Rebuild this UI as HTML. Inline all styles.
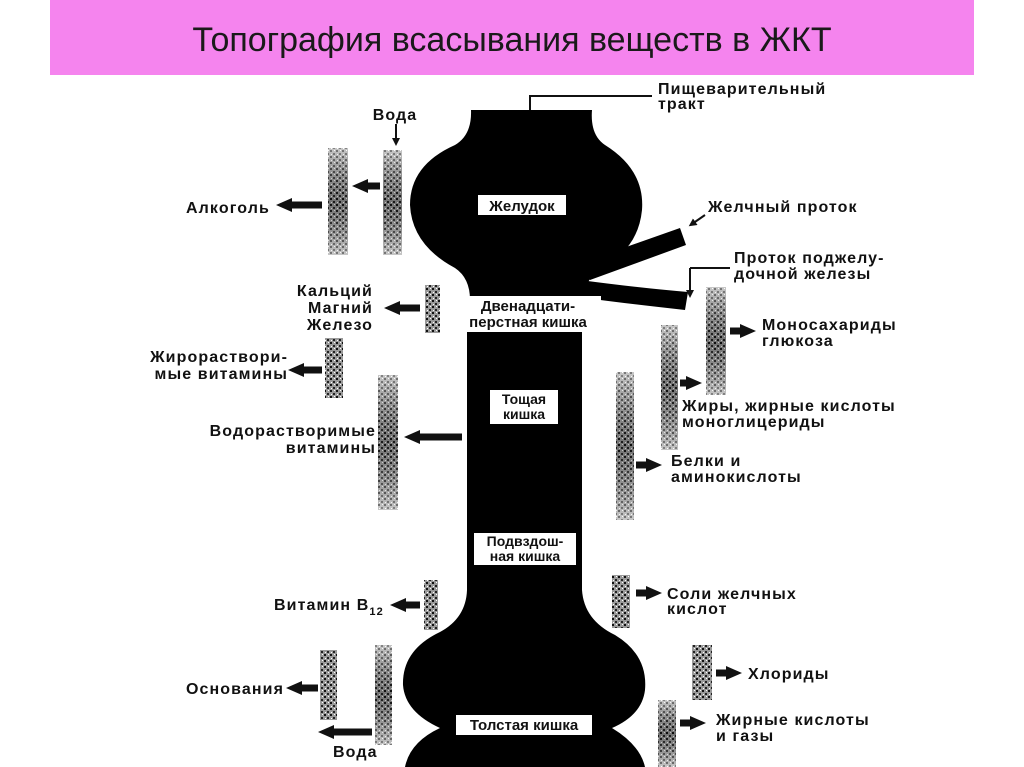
<!DOCTYPE html>
<html><head><meta charset="utf-8"><style>
html,body{margin:0;padding:0;background:#fff;width:1024px;height:767px;overflow:hidden}
svg{display:block}
text{font-family:"Liberation Sans",sans-serif;font-weight:bold;fill:#111}
.l text{letter-spacing:1.1px}
</style></head><body>
<svg width="1024" height="767" viewBox="0 0 1024 767" xmlns="http://www.w3.org/2000/svg">
<defs>
<pattern id="st" width="6" height="6" patternUnits="userSpaceOnUse">
<rect width="6" height="6" fill="#9a9a9a"/>
<rect x="0" y="0" width="2" height="2" fill="#111"/>
<rect x="3" y="3" width="2" height="2" fill="#222"/>
<rect x="4" y="0" width="1" height="1" fill="#fff"/>
<rect x="1" y="4" width="1" height="1" fill="#fff"/>
</pattern>
<linearGradient id="sh" x1="0" y1="0" x2="0" y2="1">
<stop offset="0" stop-color="#fff" stop-opacity="0.45"/>
<stop offset="0.5" stop-color="#000" stop-opacity="0.25"/>
<stop offset="1" stop-color="#fff" stop-opacity="0.45"/>
</linearGradient>
<marker id="ah" markerWidth="16" markerHeight="16" refX="4" refY="8" orient="auto" markerUnits="userSpaceOnUse">
<path d="M0,1 L16,8 L0,15 Z" fill="#111"/></marker>
<marker id="as" markerWidth="8" markerHeight="8" refX="4" refY="4" orient="auto" markerUnits="userSpaceOnUse">
<path d="M0,0 L8,4 L0,8 Z" fill="#111"/></marker>
</defs>
<rect x="50" y="0" width="924" height="75" fill="#f584ee"/>
<text x="512" y="51" text-anchor="middle" font-size="34" style="font-weight:normal;fill:#1a1a1a">Топография всасывания веществ в ЖКТ</text>

<path fill="#000" d="M471,110 L592,110 Q590,135 605,145 Q645,170 642,210 Q638,250 600,268 Q585,278 585,300 L582,330 L582,590 Q584,620 615,635 Q648,655 645,690 Q642,715 612,728 Q640,745 645,767 L405,767 Q410,742 440,728 Q405,712 403,685 Q402,650 440,632 Q466,618 467,590 L467,330 L470,300 Q470,278 455,268 Q412,245 410,205 Q410,165 455,145 Q472,135 471,110 Z"/>
<path fill="#000" d="M575,265 L680,228 L686,245 L590,280 Z"/>
<path fill="#000" d="M580,280 Q640,288 688,292 L685,310 Q630,304 585,298 Z"/>

<rect x="478" y="195" width="88" height="20" fill="#fff"/><text x="522" y="211" text-anchor="middle" font-size="15">Желудок</text>
<rect x="455" y="296" width="146" height="36" fill="#fff"/><text x="528" y="311" text-anchor="middle" font-size="15">Двенадцати-</text><text x="528" y="327" text-anchor="middle" font-size="15">перстная кишка</text>
<rect x="490" y="390" width="68" height="34" fill="#fff"/><text x="524" y="404" text-anchor="middle" font-size="14">Тощая</text><text x="524" y="419" text-anchor="middle" font-size="14">кишка</text>
<rect x="474" y="533" width="102" height="32" fill="#fff"/><text x="525" y="546" text-anchor="middle" font-size="14">Подвздош-</text><text x="525" y="561" text-anchor="middle" font-size="14">ная кишка</text>
<rect x="456" y="715" width="136" height="20" fill="#fff"/><text x="524" y="730" text-anchor="middle" font-size="15">Толстая кишка</text>

<g fill="url(#st)">
<rect x="328" y="148" width="20" height="107"/>
<rect x="383" y="150" width="19" height="105"/>
<rect x="425" y="285" width="15" height="48"/>
<rect x="325" y="338" width="18" height="60"/>
<rect x="378" y="375" width="20" height="135"/>
<rect x="616" y="372" width="18" height="148"/>
<rect x="661" y="325" width="17" height="125"/>
<rect x="706" y="287" width="20" height="108"/>
<rect x="424" y="580" width="14" height="50"/>
<rect x="612" y="575" width="18" height="53"/>
<rect x="320" y="650" width="17" height="70"/>
<rect x="375" y="645" width="17" height="100"/>
<rect x="692" y="645" width="20" height="55"/>
<rect x="658" y="700" width="18" height="67"/>
</g>
<g fill="url(#sh)">
<rect x="328" y="148" width="20" height="107"/><rect x="383" y="150" width="19" height="105"/>
<rect x="378" y="375" width="20" height="135"/><rect x="616" y="372" width="18" height="148"/>
<rect x="661" y="325" width="17" height="125"/><rect x="706" y="287" width="20" height="108"/>
<rect x="375" y="645" width="17" height="100"/><rect x="658" y="700" width="18" height="67"/>
</g>

<g stroke="#111" stroke-width="7" marker-end="url(#ah)" fill="none">
<line x1="322" y1="205" x2="288" y2="205"/>
<line x1="380" y1="186" x2="364" y2="186"/>
<line x1="420" y1="308" x2="396" y2="308"/>
<line x1="322" y1="370" x2="300" y2="370"/>
<line x1="462" y1="437" x2="416" y2="437"/>
<line x1="420" y1="605" x2="402" y2="605"/>
<line x1="318" y1="688" x2="298" y2="688"/>
<line x1="372" y1="732" x2="330" y2="732"/>
<line x1="730" y1="331" x2="744" y2="331"/>
<line x1="680" y1="383" x2="690" y2="383"/>
<line x1="636" y1="465" x2="650" y2="465"/>
<line x1="636" y1="593" x2="650" y2="593"/>
<line x1="716" y1="673" x2="730" y2="673"/>
<line x1="680" y1="723" x2="694" y2="723"/>
</g>
<g stroke="#111" stroke-width="2" fill="none">
<line x1="396" y1="124" x2="396" y2="142" marker-end="url(#as)"/>
<polyline points="530,110 530,96 652,96"/>
<polyline points="690,268 690,294" marker-end="url(#as)"/>
<line x1="690" y1="268" x2="730" y2="268"/>
<line x1="705" y1="215" x2="692" y2="224" marker-end="url(#as)"/>
</g>

<g font-size="16" class="l">
<text x="395" y="120" text-anchor="middle">Вода</text>
<text x="658" y="94">Пищеварительный</text><text x="658" y="109">тракт</text>
<text x="186" y="213">Алкоголь</text>
<text x="708" y="212">Желчный проток</text>
<text x="734" y="263">Проток поджелу-</text><text x="734" y="279">дочной железы</text>
<text x="373" y="296" text-anchor="end">Кальций</text><text x="373" y="313" text-anchor="end">Магний</text><text x="373" y="330" text-anchor="end">Железо</text>
<text x="288" y="362" text-anchor="end">Жирораствори-</text><text x="288" y="379" text-anchor="end">мые витамины</text>
<text x="762" y="330">Моносахариды</text><text x="762" y="346">глюкоза</text>
<text x="682" y="411">Жиры, жирные кислоты</text><text x="682" y="427">моноглицериды</text>
<text x="376" y="436" text-anchor="end">Водорастворимые</text><text x="376" y="453" text-anchor="end">витамины</text>
<text x="671" y="466">Белки и</text><text x="671" y="482">аминокислоты</text>
<text x="274" y="610">Витамин B<tspan font-size="11" dy="5">12</tspan></text>
<text x="667" y="599">Соли желчных</text><text x="667" y="614">кислот</text>
<text x="748" y="679">Хлориды</text>
<text x="186" y="694">Основания</text>
<text x="716" y="725">Жирные кислоты</text><text x="716" y="741">и газы</text>
<text x="333" y="757">Вода</text>
</g>
</svg>
</body></html>
